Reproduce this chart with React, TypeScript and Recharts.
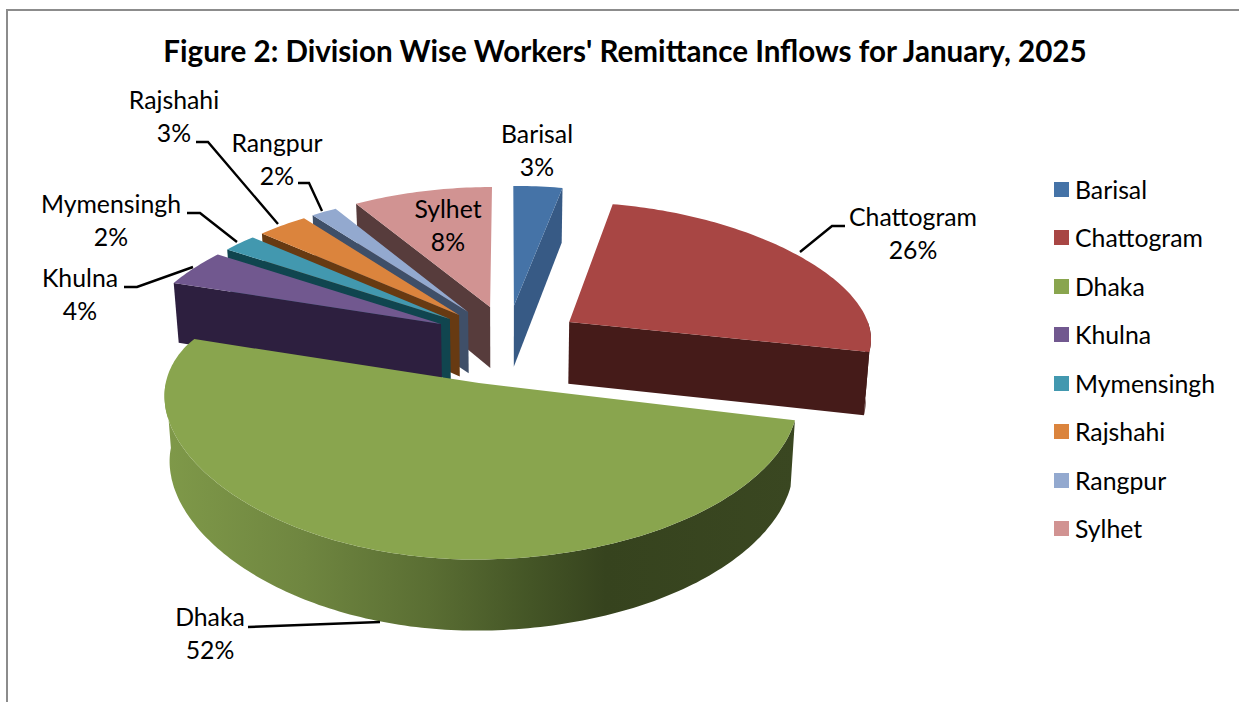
import { PieChart, Pie, Legend } from "recharts";

const divisions = ["Barisal", "Chattogram", "Dhaka", "Khulna", "Mymensingh", "Rajshahi", "Rangpur", "Sylhet"];
const shares = [3.0, 26.0, 51.56, 4.3, 2.05, 3.05, 1.55, 8.49];
const topColors = ["#4573a7", "#a84644", "#89a54e", "#71588f", "#4298af", "#db843d", "#93a9cf", "#d19392"];
const faceColors = ["#375a85", "#451b19", "#36431e", "#2d1f3f", "#10454f", "#673a12", "#3f4f68", "#573c3c"];

const TITLE = "Figure 2: Division Wise Workers' Remittance Inflows for January, 2025";
const FONT = "Lato, Carlito, sans-serif";

// far slices first, Dhaka last so it sits in front
const drawOrder = ["Barisal", "Chattogram", "Sylhet", "Rangpur", "Rajshahi", "Mymensingh", "Khulna", "Dhaka"];

// how far each slice is pulled out, in radius units [right, towards viewer]
const explode: Record<string, number[]> = {
    Barisal: [0.02, -0.335],
    Chattogram: [0.205, -0.2],
    Dhaka: [-0.093, 0.285],
    Khulna: [-0.224, -0.183],
    Mymensingh: [-0.195, -0.225],
    Rajshahi: [-0.165, -0.258],
    Rangpur: [-0.135, -0.283],
    Sylhet: [-0.061, -0.325],
};

// label centre x, name baseline y, leader line
const labelLayout: Record<string, { x: number; y: number; line?: number[][] }> = {
    Barisal: { x: 537, y: 143 },
    Chattogram: { x: 913, y: 226, line: [[800, 252], [832, 226], [845, 226]] },
    Dhaka: { x: 210, y: 626, line: [[248, 627], [380, 622]] },
    Khulna: { x: 80, y: 287, line: [[124, 287], [137, 287], [193, 267]] },
    Mymensingh: { x: 111, y: 213, line: [[187, 213], [200, 213], [237, 242]] },
    Rajshahi: { x: 174, y: 109, line: [[196, 142], [208, 142], [278, 224]] },
    Rangpur: { x: 277, y: 152, line: [[298, 183], [309, 183], [322, 211]] },
    Sylhet: { x: 448, y: 218 },
};

const tableData = divisions.map((name, i) => ({ name, value: shares[i], fill: topColors[i] }));

const TILT = 0.392;
const toPath = (pts: number[][]) => "M" + pts.map((p) => `${p[0].toFixed(1)},${p[1].toFixed(1)}`).join("L") + "Z";

function project(x: number, v: number, cx: number, cy: number, r: number) {
    const k = x < 0 && v > 0 ? 0.08 : 0.124;
    return [cx + (r * x) / (1 - k * v), cy + r * TILT * v * (1 + 0.3 * Math.max(v, 0)), v];
}

function drop(p: number[], cx: number) {
    return [cx + (p[0] - cx) * 0.985, p[1] + 63 * (1 + 0.1 * p[2])];
}

function sliceShape(only: string) {
    return (props: any) => {
        const name = props.payload?.name ?? props.name;
        if (name !== only) return <g />;
        const { cx, cy, outerRadius: r } = props;
        const from = 90 - props.startAngle;
        const to = 90 - props.endAngle;
        const [ox, ov] = explode[name];
        const rim = (t: number) => {
            const a = (t * Math.PI) / 180;
            return project(ox + Math.sin(a), ov - Math.cos(a), cx, cy, r);
        };
        const apex = project(ox, ov, cx, cy, r);
        const arc: number[][] = [];
        for (let t = from; t < to; t += 1) arc.push(rim(t));
        arc.push(rim(to));

        const i = divisions.indexOf(name);
        const face = faceColors[i];
        const parts = [];

        // outer wall, only where the rim faces the viewer
        const wFrom = Math.max(from, 90);
        const wTo = Math.min(to, 270);
        if (wTo > wFrom) {
            const top: number[][] = [];
            for (let t = wFrom; t < wTo; t += 1) top.push(rim(t));
            top.push(rim(wTo));
            const bottom = top.map((p) => drop(p, cx)).reverse();
            parts.push(
                <path key="wall" d={toPath([...top, ...bottom])} fill={name === "Dhaka" ? "url(#dhakaWall)" : face} />
            );
        }
        // cut faces
        const cut = (p: number[], key: string) => (
            <path key={key} d={toPath([apex, p, drop(p, cx), drop(apex, cx)])} fill={face} />
        );
        if (Math.sin((from * Math.PI) / 180) < -0.01) parts.push(cut(arc[0], "start"));
        if (Math.sin((to * Math.PI) / 180) > 0.01) parts.push(cut(arc[arc.length - 1], "end"));

        return (
            <g>
                <defs>
                    <linearGradient id="dhakaWall" gradientUnits="userSpaceOnUse" x1="165" y1="0" x2="795" y2="0">
                        <stop offset="0" stopColor="#7f9949" />
                        <stop offset="0.22" stopColor="#6f8640" />
                        <stop offset="0.42" stopColor="#5a6e33" />
                        <stop offset="0.58" stopColor="#445526" />
                        <stop offset="0.7" stopColor="#36431e" />
                        <stop offset="1" stopColor="#3a4721" />
                    </linearGradient>
                </defs>
                {parts}
                <path d={toPath([apex, ...arc])} fill={topColors[i]} />
            </g>
        );
    };
}

function renderLabel(props: any) {
    const name = props.payload?.name ?? props.name;
    const pos = labelLayout[name];
    const pct = Math.round(props.percent * 100);
    return (
        <g key={name}>
            {pos.line && (
                <polyline
                    points={pos.line.map((p) => p.join(",")).join(" ")}
                    fill="none"
                    stroke="#000"
                    strokeWidth={2.4}
                />
            )}
            <text x={pos.x} y={pos.y} textAnchor="middle" fontSize={24.8} fontFamily={FONT} fill="#000">
                {name}
            </text>
            <text x={pos.x} y={pos.y + 33} textAnchor="middle" fontSize={24.8} fontFamily={FONT} fill="#000">
                {pct}%
            </text>
        </g>
    );
}

function LegendList({ payload }: any) {
    // every layer pie reports its rows, keep one of each
    const rows = (payload || []).filter(
        (entry: any, i: number, all: any[]) => all.findIndex((e) => e.value === entry.value) === i
    );
    return (
        <div style={{ fontFamily: FONT, fontSize: 24.8, color: "#000" }}>
            {rows.map((entry: any) => (
                <div key={entry.value} style={{ height: 48.5, display: "flex", alignItems: "center" }}>
                    <span style={{ width: 15, height: 15, background: entry.color, marginRight: 6 }} />
                    <span>{entry.value}</span>
                </div>
            ))}
        </div>
    );
}

export default function App() {
    return (
        <div style={{ position: "absolute", left: 0, top: 0, width: 1239, height: 702, overflow: "hidden", background: "#fff" }}>
            <div
                style={{
                    position: "absolute",
                    left: 6,
                    top: 9,
                    right: -5,
                    bottom: -5,
                    borderTop: "2px solid #8c8c8c",
                    borderLeft: "2px solid #8c8c8c",
                }}
            />
            <PieChart width={1239} height={702} margin={{ top: 0, right: 0, bottom: 0, left: 0 }}>
                <text x={625} y={62} textAnchor="middle" fontSize={29.6} fontWeight={700} fontFamily={FONT} fill="#000">
                    {TITLE}
                </text>
                <Legend
                    layout="vertical"
                    align="right"
                    verticalAlign="top"
                    content={<LegendList />}
                    wrapperStyle={{ left: 1054, top: 165, width: 185 }}
                />
                {drawOrder.map((name, i) => (
                    <Pie
                        key={name}
                        data={tableData}
                        dataKey="value"
                        nameKey="name"
                        cx={508}
                        cy={346}
                        innerRadius={0}
                        outerRadius={306}
                        startAngle={90}
                        endAngle={-270}
                        stroke="none"
                        legendType={i === 0 ? "rect" : "none"}
                        shape={sliceShape(name)}
                        label={i === drawOrder.length - 1 ? renderLabel : false}
                        labelLine={false}
                        isAnimationActive={false}
                    />
                ))}
            </PieChart>
        </div>
    );
}
